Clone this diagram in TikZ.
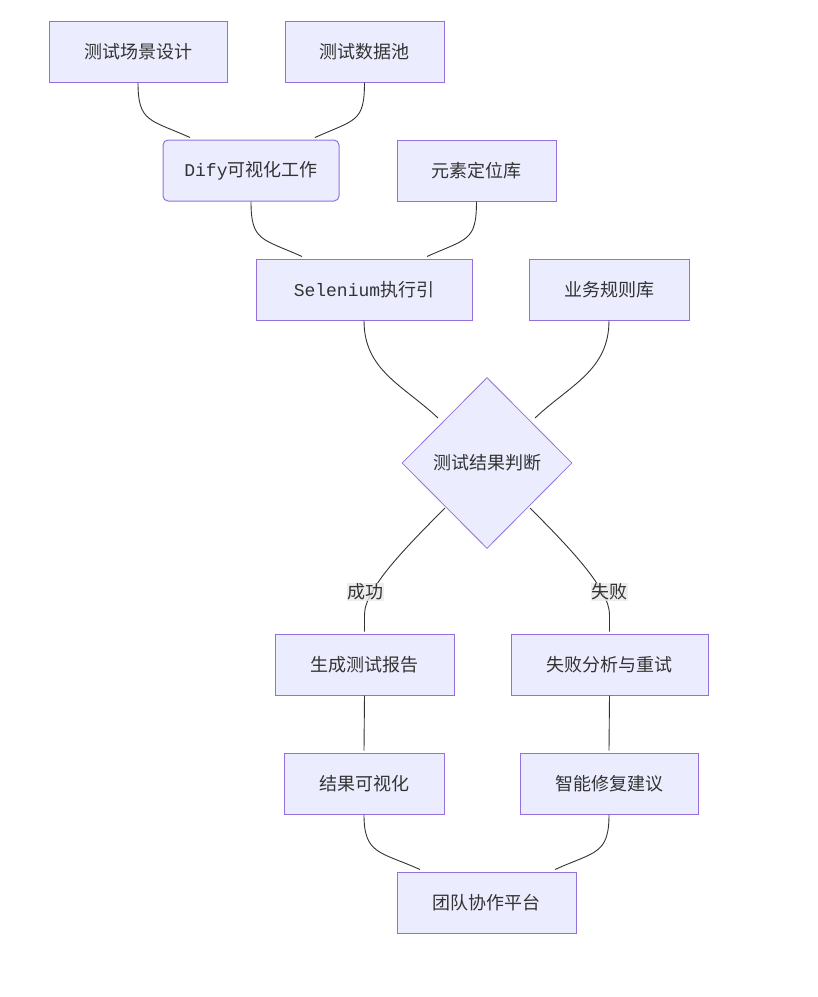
\documentclass[tikz,border=0pt]{standalone}
\usepackage{fontspec}
\setmainfont{Noto Sans CJK SC}
\newfontfamily\monof{Liberation Mono}
\usetikzlibrary{shapes.geometric,calc}
\definecolor{nodefill}{HTML}{ECECFF}
\definecolor{nodeline}{HTML}{9370DB}
\definecolor{edgec}{HTML}{333333}
\definecolor{txt}{HTML}{333333}
\definecolor{lblbg}{HTML}{E8E8E8}
\begin{document}
\begin{tikzpicture}[x=1pt,y=-1pt,
  box/.style={draw=nodeline, fill=nodefill, line width=1pt, minimum height=61pt,
    inner sep=0pt, text=txt, font=\fontsize{18}{22}\selectfont},
  dia/.style={box, diamond, line width=0.8pt, minimum width=170pt, minimum height=171pt},
  link/.style={draw=edgec, line width=0.9pt},
  lbl/.style={fill=lblbg, fill opacity=0.8, text opacity=1, inner sep=0.5pt, text=txt,
    font=\fontsize{18}{22}\selectfont}]
\useasboundingbox (0,0) rectangle (818,997);

\node[box, minimum width=178pt] (scene) at (138,51.5) {测试场景设计};
\node[box, minimum width=159pt] (data) at (364.5,51.5) {测试数据池};
\node[box, minimum width=176pt, rounded corners=5pt] (dify) at (251,170.5) {{\monof Dify}可视化工作};
\node[box, minimum width=159pt] (elem) at (476.5,170.5) {元素定位库};
\node[box, minimum width=216pt] (sel) at (364,289.5) {{\monof Selenium}执行引};
\node[box, minimum width=160pt] (rules) at (609,289.5) {业务规则库};
\node[dia] (judge) at (487,463) {测试结果判断};
\node[box, minimum width=179pt] (report) at (364.5,664.5) {生成测试报告};
\node[box, minimum width=197pt] (fail) at (609.5,664.5) {失败分析与重试};
\node[box, minimum width=160pt] (vis) at (364,783.5) {结果可视化};
\node[box, minimum width=178pt] (fix) at (609,783.5) {智能修复建议};
\node[box, minimum width=179pt] (team) at (486.5,902.5) {团队协作平台};

\draw[link] (scene.south) .. controls +(0,40) and +(-40,-18) .. ($(dify.north)+(-61,-2)$);
\draw[link] (data.south) .. controls +(0,40) and +(40,-18) .. ($(dify.north)+(64,-2)$);
\draw[link] (dify.south) .. controls +(0,40) and +(-40,-18) .. ($(sel.north)+(-62,-2)$);
\draw[link] (elem.south) .. controls +(0,40) and +(40,-18) .. ($(sel.north)+(63,-2)$);
\draw[link] (sel.south) .. controls +(0,50) and +(-35,-33) .. ($(judge.center)+(-49,-45)$);
\draw[link] (rules.south) .. controls +(0,50) and +(35,-33) .. ($(judge.center)+(48,-45)$);

\coordinate (sbend) at ($(report.north)+(0,-19)$);
\coordinate (fbend) at ($(fail.north)+(0,-19)$);
\draw[link] ($(judge.center)+(-42,45)$) .. controls +(-40,40) and +(0,-25) .. (sbend) -- ($(report.north)+(0,-2)$);
\draw[link] ($(judge.center)+(43,45)$) .. controls +(40,40) and +(0,-25) .. (fbend) -- ($(fail.north)+(0,-2)$);
\node[lbl] (ok) at (365,592) {成功};
\node[lbl] (ng) at (609,592) {失败};

\draw[link] (report.south) -- ($(vis.north)+(0,-2)$);
\draw[link] (fail.south) -- ($(fix.north)+(0,-2)$);
\draw[link] (vis.south) .. controls +(0,40) and +(-40,-18) .. ($(team.north)+(-66.5,-2)$);
\draw[link] (fix.south) .. controls +(0,40) and +(40,-18) .. ($(team.north)+(68.5,-2)$);
\end{tikzpicture}
\end{document}
